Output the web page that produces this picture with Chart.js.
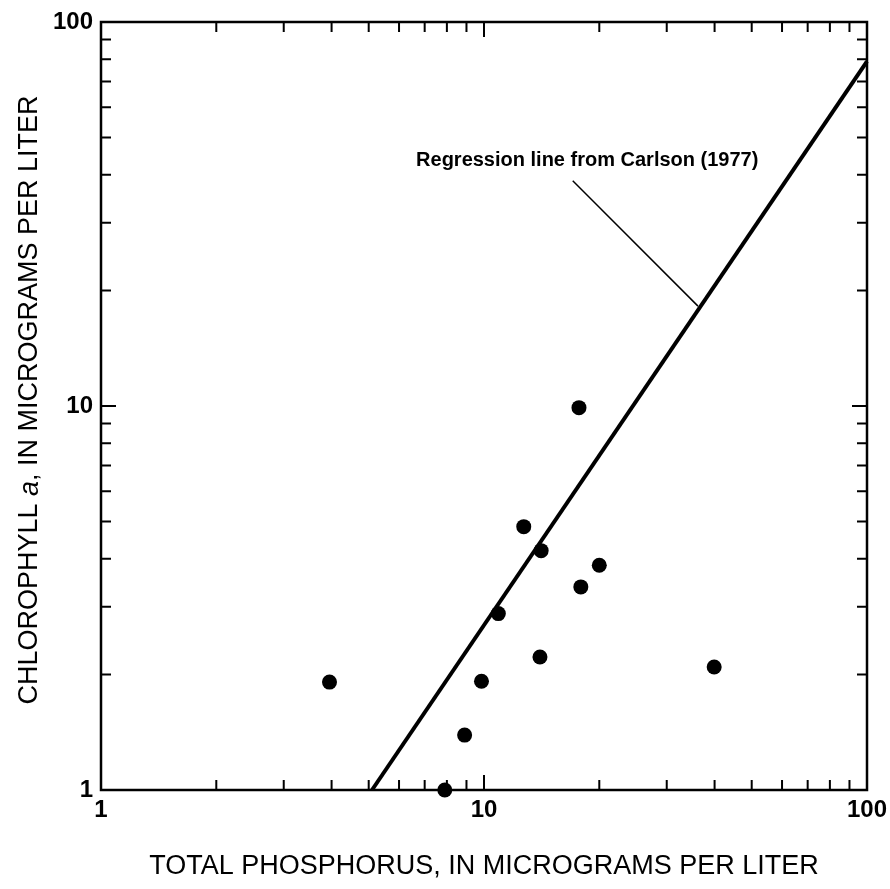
<!DOCTYPE html>
<html><head><meta charset="utf-8">
<script src="https://cdn.jsdelivr.net/npm/chart.js@4"></script>
<style>html,body{margin:0;padding:0;background:#fff}</style>
</head><body>
<canvas id="c" width="890" height="889"></canvas>
<script>
// ---- data ----
const phosphorus  = [17.7, 12.7, 14.1, 20.0, 17.9, 10.9, 14.0, 39.9, 3.95, 9.85, 8.9, 7.9];
const chlorophyll = [9.9, 4.85, 4.2, 3.85, 3.38, 2.88, 2.22, 2.09, 1.91, 1.92, 1.39, 1.0];
const regressionX = [5.1, 100];
const regressionY = [1, 79];
const xTickLabels = [1, 10, 100];
const yTickLabels = [1, 10, 100];
const xTitle = 'TOTAL PHOSPHORUS, IN MICROGRAMS PER LITER';
const yTitleParts = ['CHLOROPHYLL ', 'a', ', IN MICROGRAMS PER LITER'];
const annotationText = 'Regression line from Carlson (1977)';
const leaderX = [17.05, 36.2];
const leaderY = [38.6, 18.2];
const annotationAt = {x: 18.6, y: 43.7};

const FONT = '"Liberation Sans", Arial, Helvetica, sans-serif';

const framePlugin = {
  id: 'frame',
  beforeDatasetsDraw(chart) {
    const ctx = chart.ctx, a = chart.chartArea;
    const xs = chart.scales.x, ys = chart.scales.y;
    ctx.save();
    ctx.strokeStyle = '#000';
    ctx.lineWidth = 2.5;
    ctx.strokeRect(a.left, a.top, a.right - a.left, a.bottom - a.top);
    ctx.lineWidth = 2;
    for (let k = 0; k < 2; k++) {
      for (let d = 1; d <= 9; d++) {
        const v = d * Math.pow(10, k);
        if (v === 1) continue;
        const len = d === 1 ? 15 : 10;
        const px = xs.getPixelForValue(v);
        const py = ys.getPixelForValue(v);
        ctx.beginPath();
        ctx.moveTo(px, a.bottom); ctx.lineTo(px, a.bottom - len);
        ctx.moveTo(px, a.top); ctx.lineTo(px, a.top + len);
        ctx.moveTo(a.left, py); ctx.lineTo(a.left + len, py);
        ctx.moveTo(a.right, py); ctx.lineTo(a.right - len, py);
        ctx.stroke();
      }
    }
    // leader line and annotation
    ctx.lineWidth = 1.5;
    ctx.beginPath();
    ctx.moveTo(xs.getPixelForValue(leaderX[0]), ys.getPixelForValue(leaderY[0]));
    ctx.lineTo(xs.getPixelForValue(leaderX[1]), ys.getPixelForValue(leaderY[1]));
    ctx.stroke();
    ctx.fillStyle = '#000';
    ctx.font = 'bold 20px ' + FONT;
    ctx.textAlign = 'center';
    ctx.textBaseline = 'middle';
    ctx.fillText(annotationText, xs.getPixelForValue(annotationAt.x), ys.getPixelForValue(annotationAt.y));
    // y title with italic "a"
    const cy = 400;
    ctx.translate(30, cy);
    ctx.rotate(-Math.PI / 2);
    const fonts = ['27px ' + FONT, 'italic 27px ' + FONT, '27px ' + FONT];
    let total = 0;
    const widths = yTitleParts.map((t, i) => { ctx.font = fonts[i]; const w = ctx.measureText(t).width; total += w; return w; });
    let x = -total / 2;
    ctx.textAlign = 'left';
    yTitleParts.forEach((t, i) => { ctx.font = fonts[i]; ctx.fillText(t, x, 0); x += widths[i]; });
    ctx.restore();
  }
};

new Chart(document.getElementById('c'), {
  data: {
    datasets: [
      {
        type: 'line',
        data: regressionX.map((x, i) => ({x, y: regressionY[i]})),
        borderColor: '#000', borderWidth: 4, pointRadius: 0, fill: false, clip: false
      },
      {
        type: 'scatter',
        data: phosphorus.map((x, i) => ({x, y: chlorophyll[i]})),
        backgroundColor: '#000', borderColor: '#000', pointRadius: 7.5, borderWidth: 0, clip: false
      }
    ]
  },
  options: {
    responsive: false,
    animation: false,
    events: [],
    layout: {padding: {left: 0, top: 22, right: 23, bottom: 0}},
    plugins: {legend: {display: false}, tooltip: {enabled: false}},
    scales: {
      x: {
        type: 'logarithmic', min: 1, max: 100,
        grid: {display: false, drawTicks: false},
        border: {display: false},
        afterBuildTicks: s => { s.ticks = xTickLabels.map(v => ({value: v})); },
        afterFit: s => { s.height = 99; s.paddingLeft = 0; s.paddingRight = 0; },
        ticks: {color: '#000', padding: 6, font: {family: FONT, size: 24, weight: 'bold'}, maxRotation: 0, autoSkip: false, callback: v => String(v)},
        title: {display: true, text: xTitle, color: '#000', font: {family: FONT, size: 27}, padding: {top: 0, bottom: 6}}
      },
      y: {
        type: 'logarithmic', min: 1, max: 100,
        grid: {display: false, drawTicks: false},
        border: {display: false},
        afterBuildTicks: s => { s.ticks = yTickLabels.map(v => ({value: v})); },
        afterFit: s => { s.width = 101; s.paddingTop = 0; s.paddingBottom = 0; },
        ticks: {color: '#000', padding: 8, font: {family: FONT, size: 24, weight: 'bold'}, autoSkip: false, callback: v => String(v)}
      }
    }
  },
  plugins: [framePlugin]
});
</script>
</body></html>
